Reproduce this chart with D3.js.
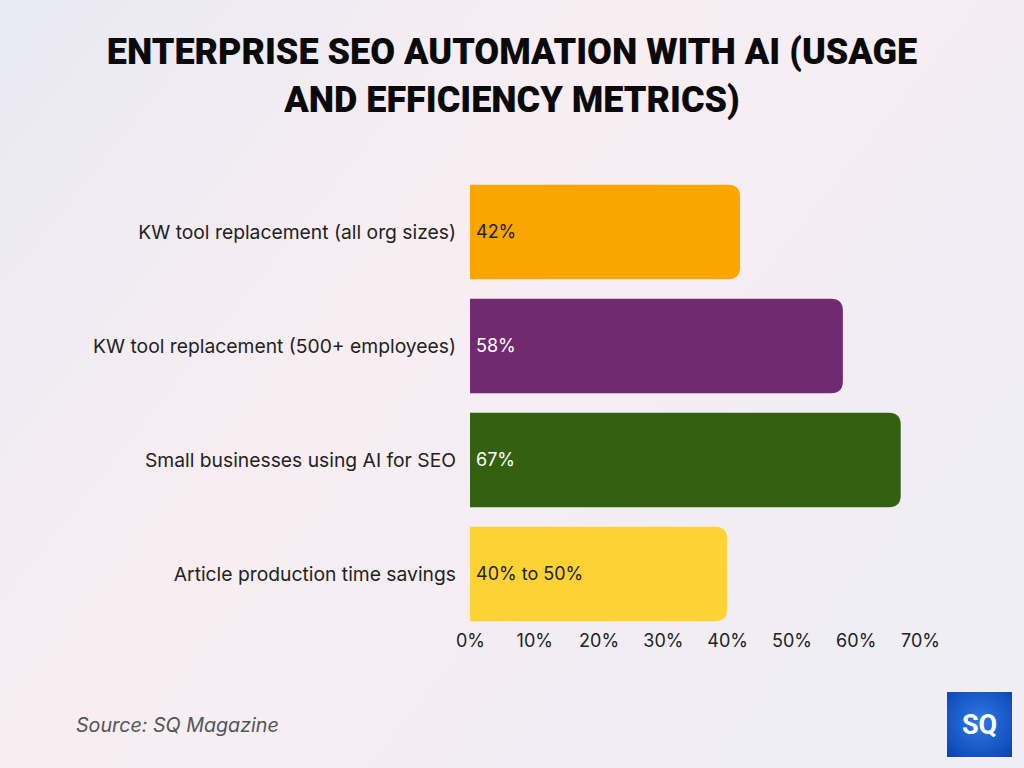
<!DOCTYPE html>
<html><head><meta charset="utf-8">
<script src="https://cdn.jsdelivr.net/npm/d3@7"></script>
<style>body{margin:0;padding:0;overflow:hidden}svg{display:block}</style>
</head><body>
<svg id="chart" width="1024" height="768"></svg>
<script>
const categories = ["KW tool replacement (all org sizes)", "KW tool replacement (500+ employees)", "Small businesses using AI for SEO", "Article production time savings"];
const values = [42, 58, 67, 40];
const valueLabels = ["42%", "58%", "67%", "40% to 50%"];
const barColors = ["#FBA500", "#722A6E", "#336111", "#FDD235"];
const labelColors = ["#222222", "#ffffff", "#ffffff", "#222222"];
const tickValues = [0, 10, 20, 30, 40, 50, 60, 70];
const titleLines = ["ENTERPRISE SEO AUTOMATION WITH AI (USAGE", "AND EFFICIENCY METRICS)"];

const svg = d3.select("#chart");
const defs = svg.append("defs");
const bg = defs.append("linearGradient").attr("id","bg").attr("x1","0").attr("y1","0").attr("x2","1").attr("y2","0.6");
bg.append("stop").attr("offset","0").attr("stop-color","#e8e9f3");
bg.append("stop").attr("offset","0.45").attr("stop-color","#f8eef2");
bg.append("stop").attr("offset","1").attr("stop-color","#efedf5");
svg.append("rect").attr("width",1024).attr("height",768).attr("fill","url(#bg)");

const fontBody = "Inter, 'Open Sans', sans-serif";

svg.selectAll("text.title").data(titleLines).join("text")
  .attr("class","title")
  .attr("x",512).attr("y",(d,i)=>64+i*48)
  .attr("text-anchor","middle")
  .attr("font-family","Roboto, 'Noto Sans', sans-serif")
  .attr("font-weight",900).attr("font-size",36)
  .attr("fill","#0a0a0a")
  .text(d=>d);

const x = d3.scaleLinear().domain([0,70]).range([470,920]);
const y = d3.scaleBand().domain(categories).range([175,631]).paddingInner(0.17).paddingOuter(0.085);

const r = 12;
function barPath(d,i){
  const x0 = x(0), x1 = x(values[i]), y0 = y(d), h = y.bandwidth();
  return `M${x0},${y0}H${x1-r}Q${x1},${y0} ${x1},${y0+r}V${y0+h-r}Q${x1},${y0+h} ${x1-r},${y0+h}H${x0}Z`;
}
svg.selectAll("path.bar").data(categories).join("path")
  .attr("class","bar").attr("d",barPath).attr("fill",(d,i)=>barColors[i]);

svg.selectAll("text.val").data(categories).join("text")
  .attr("class","val")
  .attr("x",x(0)+6).attr("y",d=>y(d)+y.bandwidth()/2)
  .attr("dy","0.35em")
  .attr("font-family",fontBody).attr("font-size",18)
  .attr("fill",(d,i)=>labelColors[i])
  .text((d,i)=>valueLabels[i]);

svg.selectAll("text.cat").data(categories).join("text")
  .attr("class","cat")
  .attr("x",456).attr("y",d=>y(d)+y.bandwidth()/2)
  .attr("dy","0.35em").attr("text-anchor","end")
  .attr("font-family",fontBody).attr("font-size",19.3)
  .attr("fill","#222")
  .text(d=>d);

const axis = d3.axisBottom(x).tickValues(tickValues).tickFormat(d=>d+"%").tickSize(0).tickPadding(0);
const ag = svg.append("g").attr("transform","translate(0,634)").call(axis);
ag.select(".domain").remove();
ag.selectAll("text").attr("font-family",fontBody).attr("font-size",18).attr("fill","#222").attr("dy","0.71em");

svg.append("text").attr("x",76).attr("y",732)
  .attr("font-family",fontBody).attr("font-style","italic").attr("font-size",19.7)
  .attr("fill","#555").text("Source: SQ Magazine");

const lg = defs.append("radialGradient").attr("id","logo").attr("cx","0.5").attr("cy","0.45").attr("r","0.7");
lg.append("stop").attr("offset","0").attr("stop-color","#2f7ae6");
lg.append("stop").attr("offset","1").attr("stop-color","#0b45b2");
svg.append("rect").attr("x",947).attr("y",692).attr("width",65).attr("height",65).attr("fill","url(#logo)");
svg.append("text").attr("x",979.5).attr("y",734).attr("text-anchor","middle")
  .attr("font-family","Roboto, sans-serif").attr("font-weight",700).attr("font-size",27)
  .attr("fill","#fff").text("SQ");
</script>
</body></html>
